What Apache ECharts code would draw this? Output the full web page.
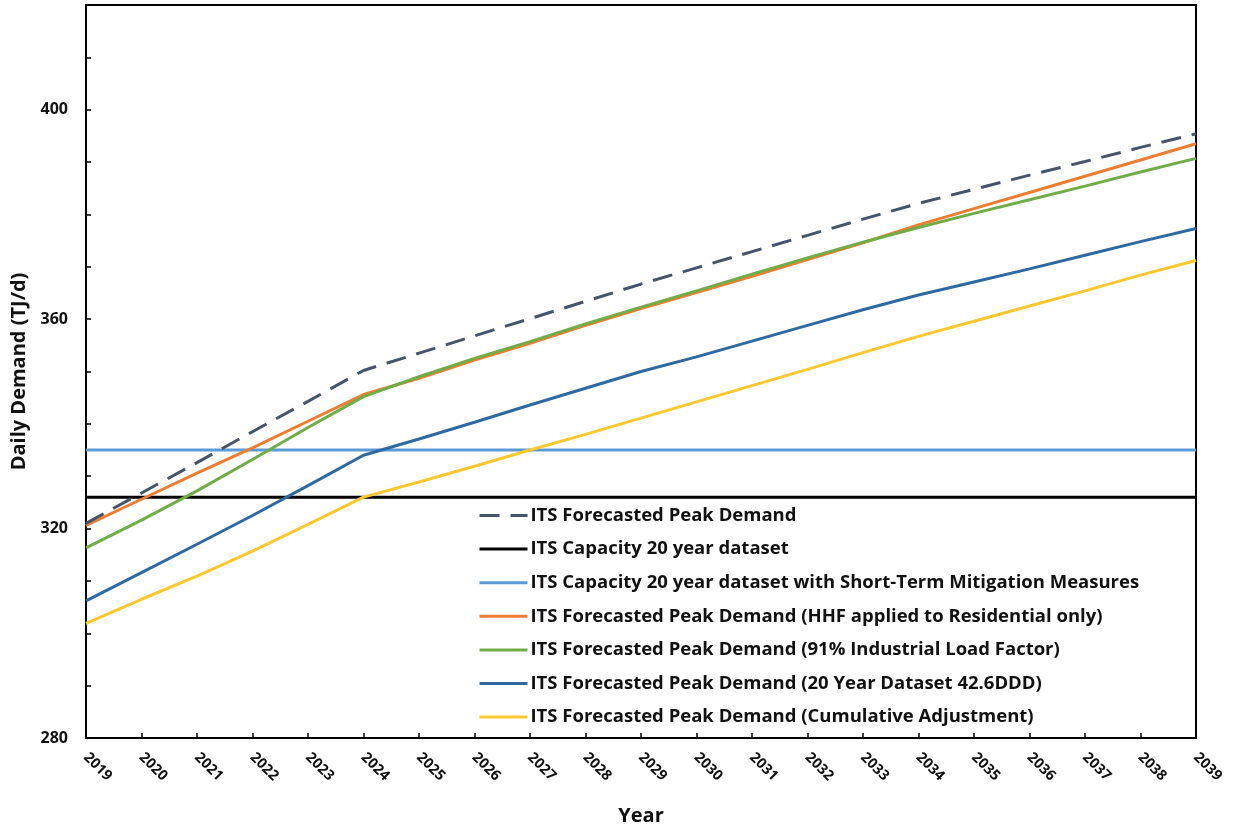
<!DOCTYPE html>
<html>
<head>
<meta charset="utf-8">
<script src="https://cdn.jsdelivr.net/npm/echarts@6/dist/echarts.min.js"></script>
<style>
html,body{margin:0;padding:0;background:#fff;}
#chart{width:1233px;height:831px;}
</style>
</head>
<body>
<div id="chart"></div>
<script>
const years = ['2019','2020','2021','2022','2023','2024','2025','2026','2027','2028','2029','2030','2031','2032','2033','2034','2035','2036','2037','2038','2039'];

const forecastPeak = [321.0,326.8,332.6,338.5,344.3,350.2,353.5,356.8,360.1,363.4,366.7,369.8,372.9,376.0,379.1,382.1,384.8,387.5,390.1,392.8,395.4];
const capacity20 = [326,326,326,326,326,326,326,326,326,326,326,326,326,326,326,326,326,326,326,326,326];
const capacityMitigation = [335,335,335,335,335,335,335,335,335,335,335,335,335,335,335,335,335,335,335,335,335];
const peakHHF = [320.6,325.6,330.6,335.4,340.5,345.6,348.7,352.2,355.4,358.8,362.0,365.1,368.2,371.4,374.6,378.0,381.1,384.2,387.3,390.4,393.5];
const peak91 = [316.3,321.6,327.2,333.2,339.3,345.2,349.0,352.5,355.7,359.1,362.3,365.4,368.6,371.7,374.7,377.5,380.2,382.8,385.4,388.1,390.7];
const peak20yr = [306.2,311.6,317.0,322.5,328.2,334.0,337.1,340.3,343.6,346.8,350.0,352.8,355.8,358.8,361.8,364.6,367.1,369.6,372.2,374.8,377.3];
const peakCumulative = [301.9,306.5,310.9,315.7,320.8,326.0,328.9,331.9,335.0,338.0,341.1,344.2,347.3,350.4,353.6,356.7,359.6,362.5,365.4,368.4,371.2];

const seriesNames = [
  'ITS Forecasted Peak Demand',
  'ITS Capacity 20 year dataset',
  'ITS Capacity 20 year dataset with Short-Term Mitigation Measures',
  'ITS Forecasted Peak Demand (HHF applied to Residential only)',
  'ITS Forecasted Peak Demand (91% Industrial Load Factor)',
  'ITS Forecasted Peak Demand (20 Year Dataset 42.6DDD)',
  'ITS Forecasted Peak Demand (Cumulative Adjustment)'
];
const seriesData = [forecastPeak, capacity20, capacityMitigation, peakHHF, peak91, peak20yr, peakCumulative];
const colors = ['#44546A','#000000','#5B9BD5','#ED7D31','#70AD47','#2E6AA1','#FFC82E'];

const FONT = '"Open Sans", Lato, sans-serif';

const series = seriesNames.map((n, i) => ({
  name: n,
  type: 'line',
  data: seriesData[i],
  symbol: 'none',
  color: colors[i],
  lineStyle: {
    color: colors[i],
    width: 3,
    type: i === 0 ? [20, 11] : 'solid',
    cap: 'butt'
  },
  z: i === 0 ? 3 : 2
}));

const chart = echarts.init(document.getElementById('chart'), null, {renderer: 'canvas'});
chart.setOption({
  animation: false,
  backgroundColor: '#ffffff',
  grid: {
    left: 86, right: 37, top: 5, bottom: 92,
    show: true, borderColor: '#000', borderWidth: 2, containLabel: false
  },
  legend: {
    orient: 'vertical',
    left: 470, top: 501,
    itemWidth: 48, itemHeight: 14,
    itemGap: 14.6,
    padding: [5, 5, 5, 8],
    itemStyle: { opacity: 0 },
    lineStyle: { width: 3 },
    textStyle: { fontFamily: FONT, fontWeight: 'bold', fontSize: 18.5, color: '#111', padding: [0,0,0,-2] },
    data: seriesNames
  },
  xAxis: {
    type: 'category',
    data: years,
    boundaryGap: false,
    name: 'Year',
    nameLocation: 'middle',
    nameGap: 68,
    nameTextStyle: { fontFamily: FONT, fontWeight: 'bold', fontSize: 20, color: '#111' },
    axisLine: { lineStyle: { color: '#000', width: 2 } },
    axisTick: { inside: true, length: 5, alignWithLabel: true, lineStyle: { color: '#000', width: 1.5 } },
    axisLabel: { rotate: -45, margin: 17, fontFamily: FONT, fontWeight: 'bold', fontSize: 14.5, color: '#111', interval: 0 },
    splitLine: { show: false }
  },
  yAxis: {
    type: 'value',
    min: 280, max: 420, interval: 10,
    name: 'Daily Demand (TJ/d)',
    nameLocation: 'middle',
    nameGap: 50,
    nameTextStyle: { fontFamily: FONT, fontWeight: 'bold', fontSize: 20, color: '#111' },
    axisLine: { show: true, lineStyle: { color: '#000', width: 2 } },
    axisTick: { show: true, inside: true, length: 5, lineStyle: { color: '#000', width: 1.5 } },
    axisLabel: {
      margin: 18, fontFamily: FONT, fontWeight: 'bold', fontSize: 16, color: '#111',
      formatter: v => (v % 40 === 0 ? String(v) : '')
    },
    splitLine: { show: false }
  },
  series: series
});
</script>
</body>
</html>
